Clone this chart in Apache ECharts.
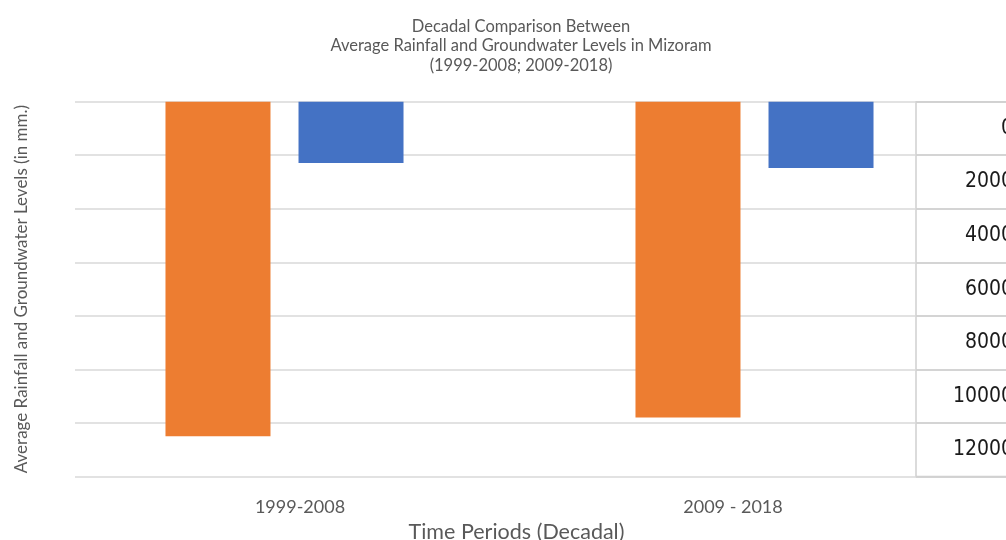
<!DOCTYPE html>
<html>
<head>
<meta charset="utf-8">
<script src="https://cdn.jsdelivr.net/npm/echarts@6/dist/echarts.min.js"></script>
<style>
  html, body { margin: 0; padding: 0; background: #fff; }
  #chart { width: 1006px; height: 540px; }
</style>
</head>
<body>
<div id="chart"></div>
<script>
// Decades on the category axis
const periods = ['1999-2008', '2009 - 2018'];
// Average rainfall per decade (mm)
const rainfall = [12500, 11800];
// Average groundwater level per decade (mm)
const groundwater = [2290, 2480];
// Values listed in the side table
const tableLabels = ['0', '2000', '4000', '6000', '8000', '10000', '12000'];

const TOP = 101.7, HEIGHT = 374.8;
const textFont = 'Lato, "Open Sans", sans-serif';
const grey = '#595959';

const chart = echarts.init(document.getElementById('chart'));
chart.setOption({
  backgroundColor: '#ffffff',
  animation: false,
  title: {
    text: 'Decadal Comparison Between\nAverage Rainfall and Groundwater Levels in Mizoram\n(1999-2008; 2009-2018)',
    left: 516, top: 11.5, textAlign: 'center',
    textStyle: { fontFamily: textFont, fontSize: 16.5, fontWeight: 'normal', color: grey, lineHeight: 19.5 }
  },
  grid: [
    // bars
    { left: 49.5, width: 940, top: TOP, height: HEIGHT, outerBoundsMode: 'none' },
    // horizontal gridlines and value axis title
    { left: 75, right: 0, top: TOP, height: HEIGHT, outerBoundsMode: 'none' },
    // period labels and x axis title
    { left: 83.5, width: 866, top: TOP, height: HEIGHT, outerBoundsMode: 'none' },
    // side table (runs past the right edge)
    { left: 916, width: 103, top: TOP, height: HEIGHT, show: true, outerBoundsMode: 'none',
      borderColor: '#cfcfcf', borderWidth: 1.5, backgroundColor: 'transparent' }
  ],
  xAxis: [
    { gridIndex: 0, type: 'category', data: periods, show: false },
    { gridIndex: 1, type: 'value', show: false },
    { gridIndex: 2, type: 'category', data: periods,
      axisLine: { show: false }, axisTick: { show: false },
      axisLabel: { margin: 22, fontFamily: textFont, fontSize: 18, color: grey },
      name: 'Time Periods (Decadal)', nameLocation: 'middle', nameGap: 45, nameMoveOverlap: false,
      nameTextStyle: { fontFamily: textFont, fontSize: 21.5, color: grey } },
    { gridIndex: 3, type: 'value', show: false }
  ],
  yAxis: [
    { gridIndex: 0, type: 'value', inverse: true, min: 0, max: 14000, interval: 2000, show: false },
    { gridIndex: 1, type: 'value', inverse: true, min: 0, max: 14000, interval: 2000,
      axisLine: { show: false }, axisTick: { show: false }, axisLabel: { show: false },
      splitLine: { show: true, lineStyle: { color: '#d9d9d9', width: 1.5 } },
      name: 'Average Rainfall and Groundwater Levels (in mm.)', nameLocation: 'middle', nameGap: 45,
      nameTextStyle: { fontFamily: textFont, fontSize: 17, color: grey } },
    { gridIndex: 2, type: 'value', inverse: true, min: 0, max: 14000, show: false },
    { gridIndex: 3, type: 'category', data: tableLabels, inverse: true, position: 'right',
      axisLine: { show: false }, axisTick: { show: false },
      splitLine: { show: true, lineStyle: { color: '#cfcfcf', width: 1.5 } },
      axisLabel: { inside: true, margin: 6, fontFamily: '"Liberation Sans Narrow", "DejaVu Sans Condensed", sans-serif',
        fontSize: 21, color: '#1a1a1a' } }
  ],
  series: [
    { name: 'Average Rainfall', type: 'bar', xAxisIndex: 0, yAxisIndex: 0,
      data: rainfall, barWidth: 105, barGap: '26.7%', itemStyle: { color: '#ED7D31' } },
    { name: 'Groundwater Level', type: 'bar', xAxisIndex: 0, yAxisIndex: 0,
      data: groundwater, barWidth: 105, barGap: '26.7%', itemStyle: { color: '#4472C4' } }
  ]
});
</script>
</body>
</html>
